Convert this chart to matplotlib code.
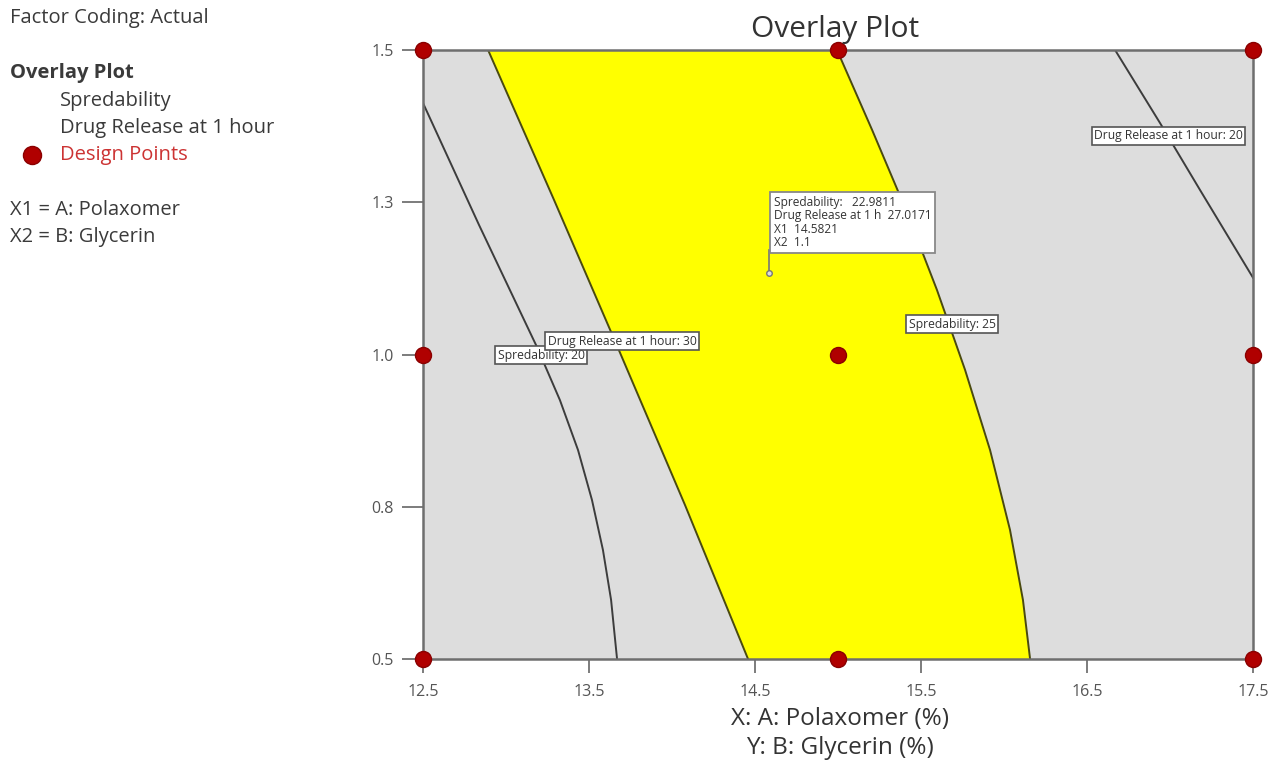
import matplotlib
matplotlib.use("Agg")
import matplotlib.pyplot as plt

plt.rcParams['font.family'] = ['Open Sans', 'DejaVu Sans']

# Factor ranges and the 3x3 design
x_ticks = [12.5, 13.5, 14.5, 15.5, 16.5, 17.5]
y_ticks = [0.5, 0.75, 1.0, 1.25, 1.5]
y_tick_labels = ['0.5', '0.8', '1.0', '1.3', '1.5']
design_x = [12.5, 12.5, 12.5, 15.0, 15.0, 15.0, 17.5, 17.5, 17.5]
design_y = [0.5, 1.0, 1.5, 0.5, 1.0, 1.5, 0.5, 1.0, 1.5]

# Contour traces (Polaxomer %, Glycerin %)
spread20_x = [12.5, 12.837, 13.187, 13.325, 13.434, 13.518, 13.584, 13.633, 13.669]
spread20_y = [1.413, 1.213, 1.012, 0.925, 0.843, 0.761, 0.679, 0.597, 0.5]
spread25_x = [14.994, 15.205, 15.410, 15.596, 15.765, 15.916, 16.036, 16.114, 16.157]
spread25_y = [1.5, 1.369, 1.237, 1.106, 0.975, 0.843, 0.712, 0.597, 0.5]
release30_x = [12.892, 13.289, 13.693, 14.078, 14.458]
release30_y = [1.5, 1.254, 0.999, 0.753, 0.5]
release20_x = [16.669, 16.94, 17.181, 17.5]
release20_y = [1.5, 1.380, 1.270, 1.126]

# Flag point
flag_x1 = 14.5821
flag_x2 = 1.1341
flag_spread = 22.9811
flag_release = 27.0171

fig = plt.figure(figsize=(12.76, 7.6), dpi=100)
ax = fig.add_axes([0.3315, 0.1329, 0.6505, 0.8013])
ax.set_facecolor('#dddddd')

# Feasible (yellow) window between release = 30 and spreadability = 25
poly_x = release30_x + spread25_x[::-1]
poly_y = release30_y + spread25_y[::-1]
ax.fill(poly_x, poly_y, color='#ffff00', zorder=1, lw=0)

ax.plot(spread20_x, spread20_y, color='#3c3c3c', lw=1.4, zorder=2)
ax.plot(release20_x, release20_y, color='#3c3c3c', lw=1.4, zorder=2)
ax.plot(spread25_x, spread25_y, color='#4a4a10', lw=1.4, zorder=2)
ax.plot(release30_x, release30_y, color='#4a4a10', lw=1.4, zorder=2)

box = dict(boxstyle='square,pad=0.2', fc='white', ec='#555555', lw=1.2)
lab_kw = dict(fontsize=8.7, color='#333333', ha='center', va='center', bbox=box, zorder=4)
ax.text(13.211, 0.999, 'Spredability: 20', **lab_kw)
ax.text(13.699, 1.022, 'Drug Release at 1 hour: 30', **lab_kw)
ax.text(15.687, 1.050, 'Spredability: 25', **lab_kw)
ax.text(16.99, 1.359, 'Drug Release at 1 hour: 20', **lab_kw)

# Flag with predicted values
ax.plot([flag_x1, flag_x1], [flag_x2, 1.172], color='#777777', lw=1.2, zorder=4)
ax.plot(flag_x1, flag_x2, 'o', ms=4, mfc='#dddddd', mec='#777777', zorder=5)
flag_text = (f'Spredability:   {flag_spread:.4f}\n'
             f'Drug Release at 1 h  {flag_release:.4f}\n'
             f'X1  {flag_x1:.4f}\n'
             f'X2  {flag_x2:.1f}')
ax.text(flag_x1 + 0.03, 1.217, flag_text, fontsize=8.6, color='#333333',
        ha='left', va='center', linespacing=1.05, zorder=4,
        bbox=dict(boxstyle='square,pad=0.3', fc='white', ec='#888888', lw=1.3))

ax.plot(design_x, design_y, 'o', ms=11.5, mfc='#b00000', mec='#8a0000',
        clip_on=False, zorder=6)

ax.set_xlim(12.5, 17.5)
ax.set_ylim(0.5, 1.5)
ax.set_xticks(x_ticks)
ax.set_xticklabels([f'{v:.1f}' for v in x_ticks])
ax.set_yticks(y_ticks)
ax.set_yticklabels(y_tick_labels)
ax.tick_params(direction='out', width=1.2, color='#666666',
               labelcolor='#555555', labelsize=11.5)
ax.tick_params(axis='x', length=10, pad=8)
ax.tick_params(axis='y', length=15, pad=6)
for sp in ax.spines.values():
    sp.set_color('#6e6e6e')
    sp.set_linewidth(1.8)

fig.text(835 / 1276, 1 - 30 / 760, 'Overlay Plot', fontsize=21.5, color='#333333',
         ha='center', va='center')
fig.text(840 / 1276, 1 - 719 / 760, 'X: A: Polaxomer (%)', fontsize=17.5, color='#333333',
         ha='center', va='center')
fig.text(840 / 1276, 1 - 748 / 760, 'Y: B: Glycerin (%)', fontsize=17.5, color='#333333',
         ha='center', va='center')

# Side panel
side = dict(fontsize=14.5, color='#3a3a3a', va='center', ha='left')
fig.text(10 / 1276, 1 - 18 / 760, 'Factor Coding: Actual', **side)
fig.text(10 / 1276, 1 - 73 / 760, 'Overlay Plot', fontweight='bold', **side)
fig.text(60 / 1276, 1 - 101 / 760, 'Spredability', **side)
fig.text(60 / 1276, 1 - 128 / 760, 'Drug Release at 1 hour', **side)
fig.text(60 / 1276, 1 - 155 / 760, 'Design Points', fontsize=14.5, color='#cc3333',
         va='center', ha='left')
fig.text(10 / 1276, 1 - 210 / 760, 'X1 = A: Polaxomer', **side)
fig.text(10 / 1276, 1 - 237 / 760, 'X2 = B: Glycerin', **side)
fig.lines.append(plt.Line2D([32 / 1276], [1 - 155 / 760], marker='o', ms=13,
                            mfc='#b00000', mec='#8a0000', transform=fig.transFigure))

fig.savefig('out.png', dpi=100)
